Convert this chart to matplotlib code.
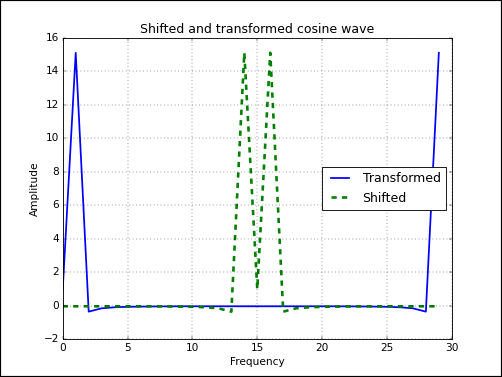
import numpy as np
from matplotlib import pyplot as plt
from matplotlib.patches import Rectangle

plt.style.use('classic')

transformed = [1.0, 15.1, -0.35, -0.15, -0.09, -0.06, -0.05, -0.04, -0.035, -0.03,
               -0.03, -0.03, -0.03, -0.03, -0.03, -0.03, -0.03, -0.03, -0.03, -0.03,
               -0.03, -0.03, -0.035, -0.04, -0.05, -0.06, -0.09, -0.15, -0.35, 15.1]
shifted = [-0.03, -0.03, -0.03, -0.03, -0.03, -0.03, -0.03, -0.035, -0.04, -0.05,
           -0.06, -0.09, -0.15, -0.35, 15.1, 1.0, 15.1, -0.35, -0.15, -0.09,
           -0.06, -0.05, -0.04, -0.035, -0.03, -0.03, -0.03, -0.03, -0.03, -0.03]

fig = plt.figure(figsize=(8, 6.008), dpi=62.75)
plt.title("Shifted and transformed cosine wave")
plt.xlabel("Frequency")
plt.ylabel("Amplitude")
plt.plot(transformed, 'b', lw=2, label="Transformed")
plt.plot(shifted, 'g--', lw=3, label="Shifted")
plt.grid(True)
plt.legend(loc='center right')
plt.xlim(0, 30)
plt.ylim(-2, 16)
fig.patches.append(Rectangle((0, 0), 1, 1, transform=fig.transFigure,
                             fill=False, edgecolor='black', lw=2.5))
plt.savefig('out.png', dpi=62.75)
